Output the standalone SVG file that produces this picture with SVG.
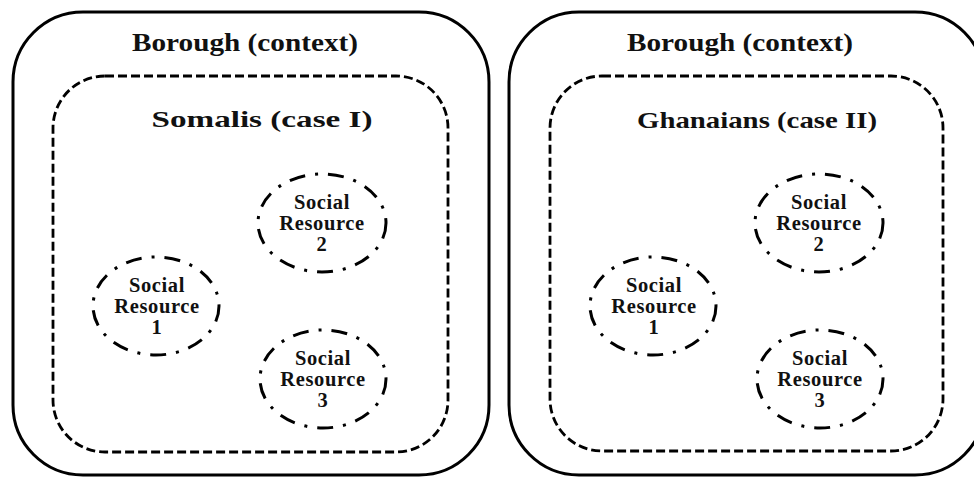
<svg xmlns="http://www.w3.org/2000/svg" width="974" height="478" viewBox="0 0 974 478">
<style>
.outer{fill:none;stroke:#000;stroke-width:3}
.inner{fill:none;stroke:#000;stroke-width:2.8;stroke-dasharray:9 4}
.res{fill:none;stroke:#000;stroke-width:3;stroke-dasharray:16 10 3 10}
text{font-family:"Liberation Serif","Times New Roman",serif;font-weight:bold;fill:#111;text-anchor:middle}
.t1{font-size:25px}
.t2{font-size:23px}
.t3{font-size:20.5px;letter-spacing:0.6px}
</style>
<rect width="974" height="478" fill="#fff"/>
<g id="borough-1">
<rect class="outer" x="13" y="12" width="476" height="463" rx="70" ry="70"/>
<text class="t1" x="245" y="51" textLength="226" lengthAdjust="spacingAndGlyphs">Borough (context)</text>
</g>
<g id="somalis">
<rect class="inner" x="53" y="76" width="395" height="376" rx="52" ry="52"/>
<text class="t2" x="262" y="127" textLength="221" lengthAdjust="spacingAndGlyphs">Somalis (case I)</text>
</g>
<g id="s-res1">
<ellipse class="res" cx="156" cy="306" rx="63" ry="49"/>
<text class="t3" x="157" y="292">Social</text>
<text class="t3" x="157" y="313">Resource</text>
<text class="t3" x="157" y="334">1</text>
</g>
<g id="s-res2">
<ellipse class="res" cx="322" cy="223" rx="64" ry="49"/>
<text class="t3" x="322" y="209">Social</text>
<text class="t3" x="322" y="230">Resource</text>
<text class="t3" x="322" y="251">2</text>
</g>
<g id="s-res3">
<ellipse class="res" cx="323" cy="379" rx="63" ry="49"/>
<text class="t3" x="323" y="365">Social</text>
<text class="t3" x="323" y="386">Resource</text>
<text class="t3" x="323" y="407">3</text>
</g>
<g id="borough-2">
<rect class="outer" x="509" y="12" width="476" height="463" rx="70" ry="70"/>
<text class="t1" x="740" y="51" textLength="226" lengthAdjust="spacingAndGlyphs">Borough (context)</text>
</g>
<g id="ghanaians">
<rect class="inner" x="550" y="76" width="393" height="375" rx="52" ry="52"/>
<text class="t2" x="757" y="128" textLength="240" lengthAdjust="spacingAndGlyphs">Ghanaians (case II)</text>
</g>
<g id="g-res1">
<ellipse class="res" cx="653" cy="306" rx="63" ry="49"/>
<text class="t3" x="654" y="292">Social</text>
<text class="t3" x="654" y="313">Resource</text>
<text class="t3" x="654" y="334">1</text>
</g>
<g id="g-res2">
<ellipse class="res" cx="819" cy="223" rx="64" ry="49"/>
<text class="t3" x="819" y="209">Social</text>
<text class="t3" x="819" y="230">Resource</text>
<text class="t3" x="819" y="251">2</text>
</g>
<g id="g-res3">
<ellipse class="res" cx="820" cy="379" rx="63" ry="49"/>
<text class="t3" x="820" y="365">Social</text>
<text class="t3" x="820" y="386">Resource</text>
<text class="t3" x="820" y="407">3</text>
</g>
<g id="connectors"/>
</svg>
